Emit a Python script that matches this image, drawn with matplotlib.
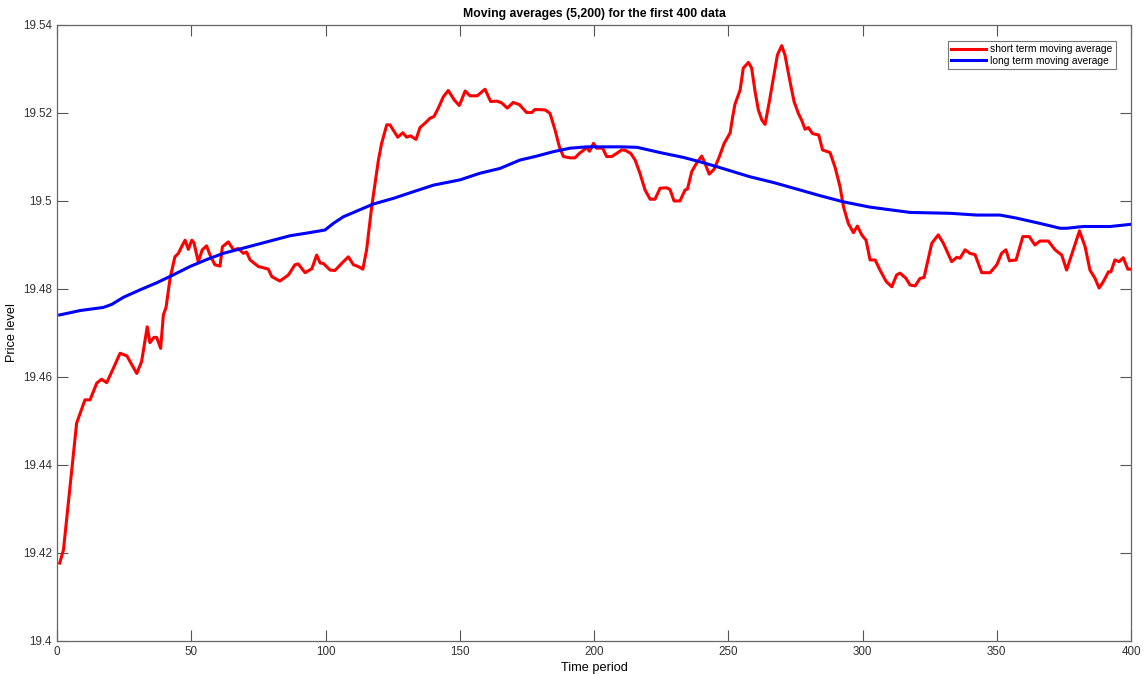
import matplotlib
matplotlib.use("Agg")
import matplotlib.pyplot as plt

plt.rcParams['font.family'] = ['Liberation Sans', 'DejaVu Sans']

# Short term (5) moving average
short_t = [1, 2.4, 7.3, 10.4, 12.3, 14.8, 16.6, 18.5, 20.4, 23.5, 26, 27.2, 29.7, 31.5, 33.6, 34.6,
           36.1, 37.1, 38.6, 39.6, 40.6, 42.1, 43.9, 45.2, 46.4, 47.7, 48.9, 50.2, 51, 52.6, 54.1,
           55.7, 57, 58.8, 60.7, 61.6, 63.8, 65.7, 67.5, 69.4, 70.6, 71.9, 75, 77, 78.7, 80, 83,
           86.2, 88.6, 89.8, 92.4, 94.9, 96.7, 98, 99.2, 101.7, 103.5, 106, 108.5, 110.4, 112.2,
           113.9, 115.3, 117.2, 119.7, 120.9, 122.8, 124, 126.9, 128.8, 130.2, 131.7, 133.7, 135.2,
           137.1, 138.9, 140.4, 142, 143.9, 145.7, 147.9, 149.8, 150.7, 152, 153.8, 156.5, 159.4,
           161.5, 163.8, 165.6, 167.7, 169.9, 172.2, 174.9, 176.8, 178, 181.8, 183.6, 185.5, 187.1,
           188.6, 191.1, 192.9, 194.5, 196, 197.3, 198.3, 199.8, 201, 203.2, 204.7, 206.6, 208.4,
           210.3, 211.7, 213.7, 215.3, 217.1, 219, 220.9, 222.7, 224.6, 227.1, 228.3, 229.8, 232,
           233.9, 234.8, 236.4, 238.2, 240.1, 241.3, 242.9, 244.7, 246.7, 248.4, 250.7, 251.6,
           252.5, 254.4, 255.6, 257.5, 258.7, 260, 261.2, 262.5, 263.7, 265.3, 266.8, 268.3, 269.9,
           271.1, 273, 274.5, 276.1, 277.3, 278.6, 279.8, 281.4, 283.7, 285.1, 287.9, 289.8, 291.6,
           292.9, 294.7, 296.6, 298.1, 299.7, 301.3, 302.8, 304.7, 306.5, 308.8, 310.9, 312.7, 314,
           316.2, 317.7, 319.6, 321.4, 322.9, 325.8, 328.2, 330.1, 333.2, 335.1, 336.3, 338.2, 340,
           341.9, 344.4, 347.5, 350, 351.8, 353.4, 354.7, 357.2, 359.7, 362.1, 364.2, 366.1, 369.2,
           371.7, 374.2, 376, 378.5, 380.8, 382.9, 384.7, 386.6, 388.1, 389.7, 391.6, 392.5, 394,
           395.6, 397.1, 398.8, 400]
short_ma = [19.4177, 19.4207, 19.4495, 19.4548, 19.4548, 19.4586, 19.4595, 19.4587, 19.4612, 19.4654,
            19.4648, 19.4635, 19.4608, 19.4635, 19.4714, 19.4678, 19.469, 19.469, 19.4665, 19.4741,
            19.4758, 19.4824, 19.4873, 19.4881, 19.4896, 19.4911, 19.4890, 19.4911, 19.4905, 19.4862,
            19.4889, 19.4898, 19.4877, 19.4855, 19.4852, 19.4896, 19.4907, 19.4889, 19.4892, 19.4881,
            19.4884, 19.4866, 19.4851, 19.4848, 19.4845, 19.4828, 19.4818, 19.4832, 19.4855, 19.4857,
            19.4837, 19.4846, 19.4877, 19.4859, 19.4858, 19.4843, 19.4842, 19.4858, 19.4873, 19.4855,
            19.4851, 19.4845, 19.4889, 19.4987, 19.5093, 19.5131, 19.5173, 19.5173, 19.5145, 19.5155,
            19.5145, 19.5148, 19.514, 19.5167, 19.5177, 19.5188, 19.5192, 19.5211, 19.5237, 19.5251,
            19.523, 19.5217, 19.523, 19.525, 19.5239, 19.5239, 19.5254, 19.5226, 19.5227, 19.5223,
            19.5211, 19.5224, 19.5219, 19.5201, 19.5201, 19.5208, 19.5207, 19.5199, 19.5161, 19.5123,
            19.5101, 19.5098, 19.5098, 19.5108, 19.5115, 19.5121, 19.5113, 19.5131, 19.512, 19.512,
            19.5101, 19.5101, 19.5108, 19.5116, 19.5115, 19.5108, 19.5093, 19.5063, 19.5025, 19.5004,
            19.5004, 19.5029, 19.503, 19.5026, 19.5, 19.5, 19.5025, 19.5027, 19.5067, 19.5086, 19.5102,
            19.5086, 19.5061, 19.5072, 19.5101, 19.513, 19.5155, 19.519, 19.522, 19.5252, 19.5302,
            19.5315, 19.5302, 19.5248, 19.5207, 19.5184, 19.5174, 19.5226, 19.5279, 19.5332, 19.5353,
            19.5332, 19.5271, 19.5226, 19.5199, 19.5184, 19.5163, 19.5167, 19.5153, 19.515, 19.5116,
            19.511, 19.5076, 19.5033, 19.4987, 19.4949, 19.4928, 19.4943, 19.4923, 19.4911, 19.4866,
            19.4866, 19.4843, 19.4817, 19.4805, 19.4832, 19.4836, 19.4824, 19.4809, 19.4807, 19.4824,
            19.4826, 19.4904, 19.4923, 19.4904, 19.4862, 19.4872, 19.487, 19.4889, 19.4881, 19.4878,
            19.4837, 19.4837, 19.4855, 19.4881, 19.4889, 19.4864, 19.4866, 19.4919, 19.4919, 19.49,
            19.4909, 19.4909, 19.4889, 19.4877, 19.4843, 19.4889, 19.4932, 19.4896, 19.4843, 19.4824,
            19.4802, 19.4817, 19.4839, 19.4839, 19.4866, 19.4862, 19.4871, 19.4845, 19.4845]

# Long term (200) moving average
long_t = [1, 8.6, 17.2, 20.4, 24.7, 30.9, 37.1, 43.3, 49.5, 55.8, 61.9, 68.2, 74.4, 80.6, 86.8, 93,
          99.8, 102.9, 106.6, 111.6, 117.8, 125.3, 132.7, 140.2, 150.1, 157.5, 165, 172.4, 178.7,
          184.8, 191.1, 197.3, 209.7, 216, 224.6, 233.3, 239.5, 245.7, 258.1, 266.8, 276.7, 284.2,
          292.9, 302.8, 317.7, 332.6, 342.5, 351.2, 357.4, 366.1, 373.6, 376, 382.2, 392.2, 400]
long_ma = [19.4741, 19.4751, 19.4758, 19.4765, 19.4781, 19.4798, 19.4814, 19.4832, 19.4851, 19.4867,
           19.4881, 19.4891, 19.4901, 19.4911, 19.4921, 19.4927, 19.4934, 19.4949, 19.4964, 19.4977,
           19.4993, 19.5006, 19.5021, 19.5036, 19.5048, 19.5063, 19.5074, 19.5093, 19.5102, 19.5112,
           19.512, 19.5123, 19.5123, 19.5122, 19.511, 19.5099, 19.5089, 19.5078, 19.5055, 19.5042,
           19.5025, 19.5012, 19.4998, 19.4986, 19.4974, 19.4972, 19.4968, 19.4968, 19.4961, 19.4949,
           19.4938, 19.4938, 19.4942, 19.4942, 19.4947]

x_ticks = [0, 50, 100, 150, 200, 250, 300, 350, 400]
y_ticks = [19.4, 19.42, 19.44, 19.46, 19.48, 19.5, 19.52, 19.54]

fig = plt.figure(figsize=(11.45, 6.75), dpi=100)
ax = fig.add_axes([0.0498, 0.0504, 0.938, 0.9126])

ax.plot(short_t, short_ma, color='#ff0000', linewidth=2.2, label='short term moving average')
ax.plot(long_t, long_ma, color='#0000ff', linewidth=2.2, label='long term moving average')

ax.set_xlim(0, 400)
ax.set_ylim(19.4, 19.54)
ax.set_xticks(x_ticks)
ax.set_yticks(y_ticks)
ax.set_xticklabels([str(v) for v in x_ticks])
ax.set_yticklabels([f"{v:g}" for v in y_ticks])
ax.tick_params(direction='in', length=8, width=0.8, color='#555555', labelcolor='#333333',
               labelsize=8.4, top=True, right=True, pad=3.5)
for s in ax.spines.values():
    s.set_color('#666666')
    s.set_linewidth(0.9)

ax.set_title('Moving averages (5,200) for the first 400 data', fontsize=8.8, fontweight='bold', pad=6)
ax.set_xlabel('Time period', fontsize=9.2, labelpad=3)
ax.set_ylabel('Price level', fontsize=9.2)
ax.yaxis.set_label_coords(-0.036, 0.5)

leg = ax.legend(loc='upper right', fontsize=7.4, fancybox=False, framealpha=1,
                edgecolor='#777777', handlelength=3.4, borderpad=0.35, labelspacing=0.15,
                handletextpad=0.4, bbox_to_anchor=(0.991, 0.983))
leg.get_frame().set_linewidth(0.8)

fig.savefig('out.png', dpi=100)
